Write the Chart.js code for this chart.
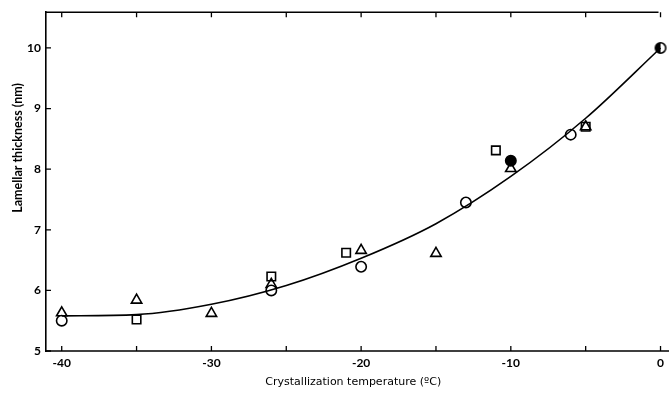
<!DOCTYPE html>
<html>
<head>
<meta charset="utf-8">
<script src="https://cdn.jsdelivr.net/npm/chart.js@4.4.1/dist/chart.umd.min.js"></script>
<style>
  html, body { margin: 0; padding: 0; background: #fff; }
  #wrap { width: 669px; height: 394px; }
</style>
</head>
<body>
<div id="wrap"><canvas id="Plot"></canvas></div>
<script>
// Datos
const circleT = [-40, -26, -20, -13, -6];
const circleL = [5.5, 6.0, 6.39, 7.45, 8.57];
const filledT = [-10];
const filledL = [8.14];
const halfT = [0];
const halfL = [10.0];
const triT = [-40, -35, -30, -26, -20, -15, -10, -5];
const triL = [5.63, 5.84, 5.62, 6.1, 6.66, 6.61, 8.01, 8.7];
const sqT = [-35, -26, -21, -11, -5];
const sqL = [5.52, 6.23, 6.62, 8.31, 8.7];
const fitT = [-40, -35, -30, -25, -20, -15, -10, -5, 0];
const fitL = [5.58, 5.6, 5.77, 6.08, 6.53, 7.1, 7.88, 8.84, 10.0];
const xTicks = [-40, -35, -30, -25, -20, -15, -10, -5, 0];
const xLabels = [-40, -30, -20, -10, 0];
const yTicks = [5, 6, 7, 8, 9, 10];
const yTitle = 'Lamellar thickness (nm)';

const font = "Lato, 'Liberation Sans', sans-serif";

function pts(xs, ys) {
    return xs.map((x, i) => ({x: x, y: ys[i]}));
}

// círculo medio relleno
function halfCircle() {
    const c = document.createElement('canvas');
    c.width = 14; c.height = 14;
    const g = c.getContext('2d');
    g.fillStyle = '#fff';
    g.beginPath(); g.arc(7, 7, 5.2, 0, Math.PI * 2); g.fill();
    g.fillStyle = '#000';
    g.beginPath(); g.arc(7, 7, 5.2, Math.PI * 0.5, Math.PI * 1.5); g.fill();
    g.lineWidth = 1.6; g.strokeStyle = '#000';
    g.beginPath(); g.arc(7, 7, 5.2, 0, Math.PI * 2); g.stroke();
    return c;
}

// marco superior, marcas hacia dentro y título del eje y
const frame = {
    id: 'frame',
    afterDraw(chart) {
        const ctx = chart.ctx, a = chart.chartArea;
        const xs = chart.scales.x, ys = chart.scales.y;
        ctx.save();
        ctx.strokeStyle = '#000';
        ctx.lineWidth = 1.6;
        ctx.beginPath();
        ctx.moveTo(a.left, a.top);
        ctx.lineTo(xs.getPixelForValue(0) - 2, a.top);
        ctx.moveTo(a.left, a.bottom);
        ctx.lineTo(669, a.bottom);
        ctx.stroke();
        ctx.lineWidth = 1.3;
        ctx.beginPath();
        xTicks.forEach(v => {
            const px = xs.getPixelForValue(v);
            ctx.moveTo(px, a.bottom); ctx.lineTo(px, a.bottom - 5);
            ctx.moveTo(px, a.top); ctx.lineTo(px, a.top + 5);
        });
        yTicks.forEach(v => {
            const py = ys.getPixelForValue(v);
            ctx.moveTo(a.left, py); ctx.lineTo(a.left + 5, py);
        });
        ctx.stroke();

        ctx.translate(18, ys.getPixelForValue(8.35));
        ctx.rotate(-Math.PI / 2);
        ctx.fillStyle = '#000';
        ctx.font = 'bold 12.5px ' + font;
        ctx.textAlign = 'center';
        ctx.textBaseline = 'middle';
        ctx.fillText(yTitle, 0, 0);
        ctx.restore();
    }
};

new Chart(document.querySelector('#Plot'), {
    type: 'scatter',
    data: {
        datasets: [
            {
                type: 'line',
                data: pts(fitT, fitL),
                borderColor: '#000',
                borderWidth: 1.6,
                pointRadius: 0,
                cubicInterpolationMode: 'monotone',
                fill: false
            },
            {
                data: pts(circleT, circleL),
                pointStyle: 'circle', pointRadius: 5.2,
                borderColor: '#000', borderWidth: 1.6, backgroundColor: '#fff'
            },
            {
                data: pts(triT, triL),
                pointStyle: 'triangle', pointRadius: 6,
                borderColor: '#000', borderWidth: 1.6, backgroundColor: 'rgba(255,255,255,0)'
            },
            {
                data: pts(sqT, sqL),
                pointStyle: 'rect', pointRadius: 6,
                borderColor: '#000', borderWidth: 1.6, backgroundColor: 'rgba(255,255,255,0)'
            },
            {
                data: pts(filledT, filledL),
                pointStyle: 'circle', pointRadius: 5.2,
                borderColor: '#000', borderWidth: 1.6, backgroundColor: '#000'
            },
            {
                data: pts(halfT, halfL),
                pointStyle: halfCircle(), pointRadius: 6
            }
        ]
    },
    options: {
        responsive: true,
        maintainAspectRatio: false,
        animation: false,
        clip: false,
        layout: { padding: { top: 12, right: 4, left: 0, bottom: 0 } },
        plugins: {
            legend: { display: false },
            tooltip: { enabled: false }
        },
        scales: {
            x: {
                type: 'linear',
                min: -41.05, max: 0,
                afterFit(s) { s.height = 43; },
                afterBuildTicks(s) { s.ticks = xLabels.map(v => ({value: v})); },
                grid: { display: false, drawTicks: false },
                border: { display: false },
                ticks: {
                    color: '#000', padding: 5,
                    font: { family: font, size: 12, weight: 'bold' }
                },
                title: {
                    display: true,
                    text: 'Crystallization temperature (ºC)',
                    color: '#000',
                    padding: { top: 0, bottom: 5 },
                    font: { family: "'DejaVu Sans', sans-serif", size: 11 }
                }
            },
            y: {
                type: 'linear',
                min: 5, max: 10.59,
                afterFit(s) { s.width = 46; },
                afterBuildTicks(s) { s.ticks = yTicks.map(v => ({value: v})); },
                grid: { display: false, drawTicks: false },
                border: { display: true, color: '#000', width: 1.6 },
                ticks: {
                    color: '#000', padding: 5,
                    font: { family: font, size: 12, weight: 'bold' }
                }
            }
        }
    },
    plugins: [frame]
});
</script>
</body>
</html>
